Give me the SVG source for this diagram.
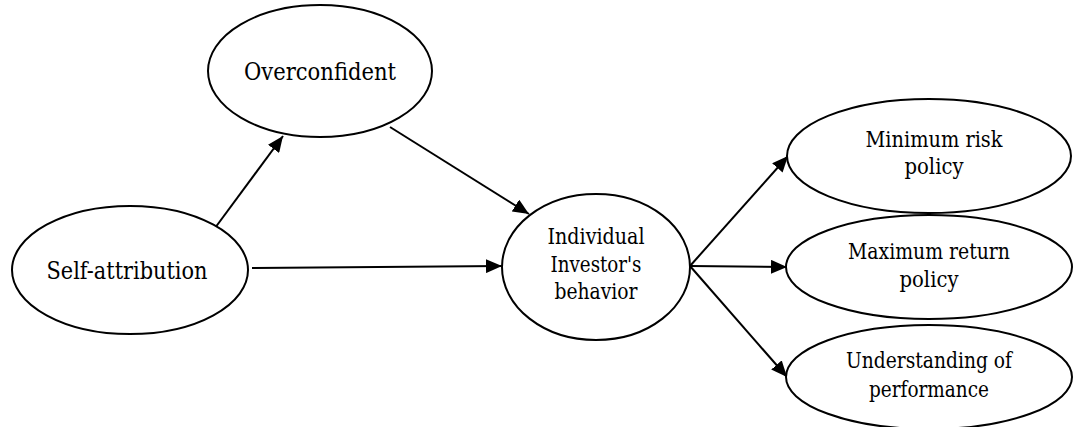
<svg xmlns="http://www.w3.org/2000/svg" width="1075" height="427" viewBox="0 0 1075 427">
<style>
.node ellipse{fill:#fff;stroke:#000;stroke-width:2}
.node text{fill:#000;text-anchor:middle;font-family:"DejaVu Serif","Liberation Serif",serif}
.big{font-size:24px}
.small{font-size:22px}
.conn line{stroke:#000;stroke-width:2;marker-end:url(#arr)}
</style>
<defs>
<marker id="arr" markerUnits="userSpaceOnUse" markerWidth="18" markerHeight="14" refX="16" refY="7" orient="auto">
<path d="M0,0 L16,7 L0,14 Z" fill="#000"/>
</marker>
</defs>
<rect width="1075" height="427" fill="#fff"/>
<g id="connectors" class="conn">
<line x1="215" y1="228" x2="283" y2="136"/>
<line x1="390" y1="127" x2="529" y2="214"/>
<line x1="252" y1="268" x2="502" y2="266"/>
<line x1="690" y1="266" x2="788" y2="156"/>
<line x1="690" y1="266" x2="787" y2="267"/>
<line x1="690" y1="266" x2="787" y2="377"/>
</g>
<g id="overconfident" class="node">
<ellipse cx="320" cy="71" rx="112" ry="66"/>
<text class="big" x="320" y="80" textLength="152" lengthAdjust="spacingAndGlyphs">Overconfident</text>
</g>
<g id="self-attribution" class="node">
<ellipse cx="130" cy="270" rx="118" ry="64"/>
<text class="big" x="127" y="279" textLength="161" lengthAdjust="spacingAndGlyphs">Self-attribution</text>
</g>
<g id="individual" class="node">
<ellipse cx="596" cy="267" rx="94" ry="73"/>
<text class="small" x="596" y="244" textLength="97" lengthAdjust="spacingAndGlyphs">Individual</text>
<text class="small" x="596" y="272" textLength="91" lengthAdjust="spacingAndGlyphs">Investor's</text>
<text class="small" x="596" y="299" textLength="83" lengthAdjust="spacingAndGlyphs">behavior</text>
</g>
<g id="minimum-risk" class="node">
<ellipse cx="929" cy="156" rx="142" ry="57"/>
<text class="small" x="934" y="147" textLength="137" lengthAdjust="spacingAndGlyphs">Minimum risk</text>
<text class="small" x="934" y="174" textLength="59" lengthAdjust="spacingAndGlyphs">policy</text>
</g>
<g id="maximum-return" class="node">
<ellipse cx="929" cy="267" rx="143" ry="52"/>
<text class="small" x="929" y="259" textLength="162" lengthAdjust="spacingAndGlyphs">Maximum return</text>
<text class="small" x="929" y="287" textLength="59" lengthAdjust="spacingAndGlyphs">policy</text>
</g>
<g id="understanding" class="node">
<ellipse cx="929" cy="377" rx="143" ry="52"/>
<text class="small" x="929" y="368" textLength="166" lengthAdjust="spacingAndGlyphs">Understanding of</text>
<text class="small" x="929" y="397" textLength="120" lengthAdjust="spacingAndGlyphs">performance</text>
</g>
</svg>
